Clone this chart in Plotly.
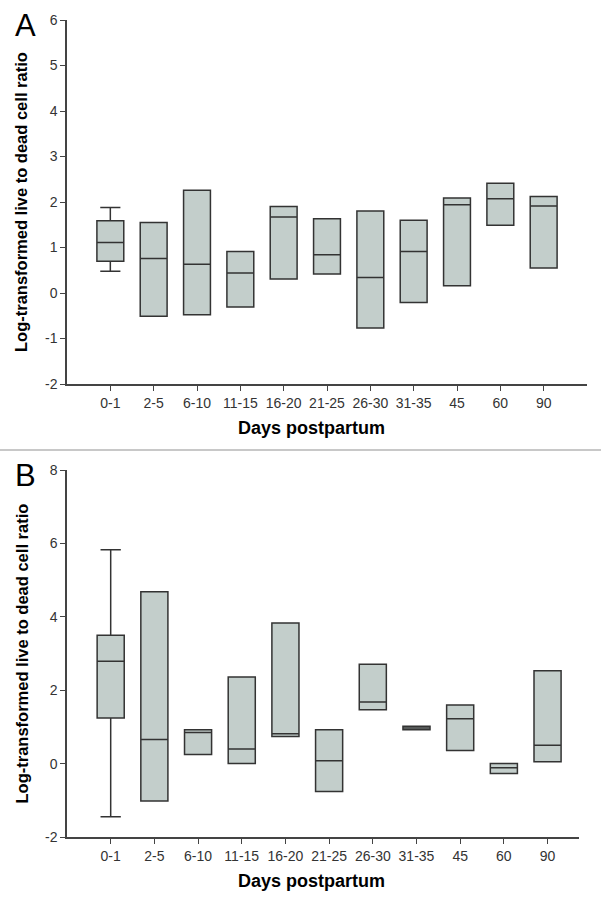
import plotly.graph_objects as go

days = ["0-1", "2-5", "6-10", "11-15", "16-20", "21-25", "26-30", "31-35", "45", "60", "90"]
a_yticks = [-2, -1, 0, 1, 2, 3, 4, 5, 6]
b_yticks = [-2, 0, 2, 4, 6, 8]

# panel A
a_low = [0.48, -0.51, -0.48, -0.31, 0.31, 0.42, -0.77, -0.21, 0.16, 1.49, 0.55]
a_q1 = [0.70, -0.51, -0.48, -0.31, 0.31, 0.42, -0.77, -0.21, 0.16, 1.49, 0.55]
a_med = [1.11, 0.76, 0.63, 0.44, 1.67, 0.84, 0.34, 0.91, 1.94, 2.07, 1.91]
a_q3 = [1.59, 1.55, 2.26, 0.91, 1.90, 1.63, 1.80, 1.60, 2.09, 2.41, 2.12]
a_high = [1.88, 1.55, 2.26, 0.91, 1.90, 1.63, 1.80, 1.60, 2.09, 2.41, 2.12]

# panel B
b_low = [-1.45, -1.02, 0.25, 0.00, 0.74, -0.76, 1.47, 0.92, 0.36, -0.27, 0.05]
b_q1 = [1.24, -1.02, 0.25, 0.00, 0.74, -0.76, 1.47, 0.92, 0.36, -0.27, 0.05]
b_med = [2.79, 0.66, 0.85, 0.40, 0.81, 0.08, 1.68, 0.97, 1.22, -0.11, 0.50]
b_q3 = [3.50, 4.68, 0.92, 2.36, 3.83, 0.92, 2.71, 1.02, 1.60, 0.00, 2.53]
b_high = [5.83, 4.68, 0.92, 2.36, 3.83, 0.92, 2.71, 1.02, 1.60, 0.00, 2.53]

W, H = 601, 902
pos = list(range(len(days)))
FONT = "Liberation Sans, Arial, sans-serif"
box_style = dict(fillcolor="#c3cecb", line=dict(color="#333333", width=1.5),
                 width=0.62, whiskerwidth=0.75, boxpoints=False, showlegend=False,
                 hoverinfo="skip")

fig = go.Figure()
fig.add_trace(go.Box(x=pos, q1=a_q1, median=a_med, q3=a_q3, lowerfence=a_low,
                     upperfence=a_high, xaxis="x", yaxis="y", **box_style))
fig.add_trace(go.Box(x=pos, q1=b_q1, median=b_med, q3=b_q3, lowerfence=b_low,
                     upperfence=b_high, xaxis="x2", yaxis="y2", **box_style))

ax = dict(showline=True, linecolor="#444444", linewidth=1.5, ticks="outside",
          ticklen=5, tickcolor="#444444", tickwidth=1.2, showgrid=False,
          zeroline=False, tickfont=dict(family=FONT, size=14, color="#333333"))


def px_x(p):
    return p / W


def px_y(p):
    return 1 - p / H


fig.update_layout(
    width=W, height=H, margin=dict(l=0, r=0, t=0, b=0, autoexpand=False),
    paper_bgcolor="white", plot_bgcolor="white",
    xaxis=dict(domain=[px_x(67), px_x(587)], range=[-1, 11], tickvals=pos,
               ticktext=days, anchor="y", **ax),
    yaxis=dict(domain=[px_y(384), px_y(20)], range=[-2, 6], tickvals=a_yticks,
               ticktext=[str(v) for v in a_yticks], anchor="x", **ax),
    xaxis2=dict(domain=[px_x(67), px_x(579)], range=[-1, 10.72], tickvals=pos,
                ticktext=days, anchor="y2", **ax),
    yaxis2=dict(domain=[px_y(837), px_y(470)], range=[-2, 8], tickvals=b_yticks,
                ticktext=[str(v) for v in b_yticks], anchor="x2", **ax),
)

ytitle = "<b>Log-transformed live to dead cell ratio</b>"
for label, top, bot, letter_y in [("A", 20, 384, 26), ("B", 470, 837, 475)]:
    fig.add_annotation(text=ytitle, xref="paper", yref="paper", x=px_x(21),
                       y=px_y((top + bot) / 2), textangle=-90, showarrow=False,
                       xanchor="center", yanchor="middle",
                       font=dict(family=FONT, size=16.5, color="black"))
    fig.add_annotation(text="<b>Days postpartum</b>", xref="paper", yref="paper",
                       x=px_x(311), y=px_y(bot + 44), showarrow=False,
                       xanchor="center", yanchor="middle",
                       font=dict(family=FONT, size=18, color="black"))
    fig.add_annotation(text=label, xref="paper", yref="paper", x=px_x(25),
                       y=px_y(letter_y), showarrow=False,
                       xanchor="center", yanchor="middle",
                       font=dict(family=FONT, size=31, color="black"))

fig.add_shape(type="line", xref="paper", yref="paper", x0=0, x1=1,
              y0=px_y(450), y1=px_y(450), line=dict(color="#c8c8c8", width=2))

fig.write_html("out.html", config={"displayModeBar": False},
               post_script="document.body.style.margin='0';")
